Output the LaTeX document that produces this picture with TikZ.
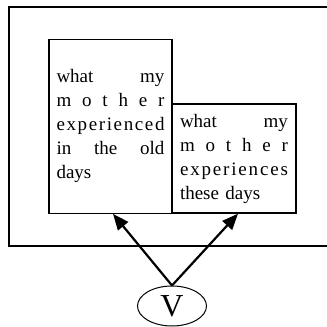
\documentclass[tikz,border=0pt]{standalone}
\usepackage{fontspec}
\setmainfont{Liberation Serif}
\usetikzlibrary{arrows.meta,shapes.geometric}
\tikzset{
  >={Triangle[length=16pt,width=13pt]},
  frame/.style={draw,line width=1.4pt},
  textbox/.style={draw,line width=1.4pt,align=left,text width=108pt,inner xsep=7.5pt,inner ysep=0pt,font=\fontsize{19}{24}\selectfont},
  vnode/.style={draw,ellipse,line width=1pt,inner sep=0pt,minimum width=69pt,minimum height=40pt,font=\fontsize{32}{34}\selectfont},
  arrow/.style={->,line width=2.2pt},
}
\newcommand{\spreadline}[1]{\makebox[\hsize][s]{#1}}

\begin{document}
\begin{tikzpicture}[x=1pt,y=-1pt]
  \clip (0,0) rectangle (327,327);
  \draw[frame] (9,7) rectangle (345,246);

  \node[textbox,minimum width=123pt,minimum height=174pt] (past) at (110.5,126.2) {
    \spreadline{what\hfill my}\\
    \spreadline{m\hfill o\hfill t\hfill h\hfill e\hfill r}\\
    \spreadline{e\hfill x\hfill p\hfill e\hfill r\hfill i\hfill e\hfill n\hfill c\hfill e\hfill d}\\
    \spreadline{in\hfill the\hfill old}\\
    days};
  \node[textbox,minimum width=124pt,minimum height=109pt] (now) at (234,158.5) {
    \spreadline{what\hfill my}\\
    \spreadline{m\hfill o\hfill t\hfill h\hfill e\hfill r}\\
    \spreadline{e\hfill x\hfill p\hfill e\hfill r\hfill i\hfill e\hfill n\hfill c\hfill e\hfill s}\\
    these days};

  \node[vnode] (v) at (172,306) {V};
  \draw[arrow] (v.north) -- ([xshift=2.5pt]past.south);
  \draw[arrow] (v.north) -- ([xshift=4pt]now.south);
\end{tikzpicture}
\end{document}
